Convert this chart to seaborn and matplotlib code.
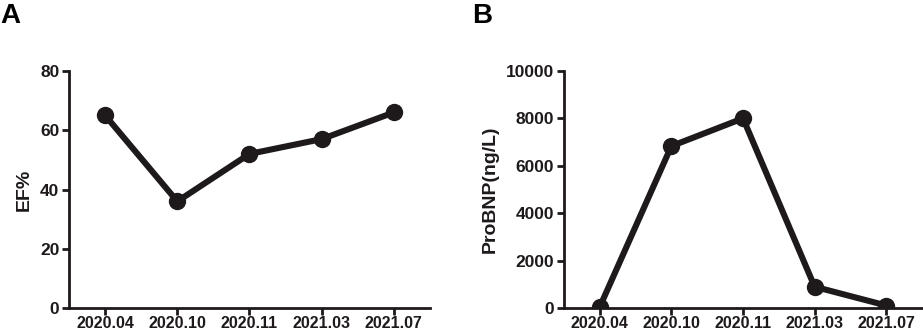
#!/usr/bin/env python3
# -*- coding: utf-8 -*-

import pandas as pd
import matplotlib
matplotlib.use("Agg")
import matplotlib.pyplot as plt
import seaborn as sns

# ================= data =================
dates = ["2020.04", "2020.10", "2020.11", "2021.03", "2021.07"]
ef_pct = [65, 36, 52, 57, 66]
probnp = [50, 6830, 8000, 900, 110]

INK = "#1e1a1b"

sns.set_style("ticks")
plt.rcParams['font.family'] = ['Liberation Sans', 'DejaVu Sans']
plt.rcParams['font.weight'] = 'bold'

fig = plt.figure(figsize=(9.23, 3.36), dpi=100)
# 底部留一点空间，让日期标签完整显示
ax_a = fig.add_axes([0.0748, 0.083, 0.391, 0.706])
ax_b = fig.add_axes([0.611, 0.083, 0.388, 0.706])

df = pd.DataFrame({"date": dates, "ef": ef_pct, "bnp": probnp})


def draw(ax, col, ylab, ymax, step):
    sns.lineplot(data=df, x="date", y=col, ax=ax, color=INK, linewidth=4.4,
                 marker="o", markersize=12.5, markeredgewidth=0, sort=False)
    ax.set_xlim(-0.5, 4.5)
    ax.set_ylim(0, ymax)
    ax.set_yticks(range(0, ymax + 1, step))
    ax.set_xlabel("")
    ax.set_ylabel(ylab, fontsize=14, fontweight="bold", color=INK, labelpad=5)
    for s in ["top", "right"]:
        ax.spines[s].set_visible(False)
    for s in ["left", "bottom"]:
        ax.spines[s].set_linewidth(2)
        ax.spines[s].set_color(INK)
        ax.spines[s].set_zorder(1)
    ax.tick_params(axis="both", length=5, width=2, color=INK, labelcolor=INK, pad=2)
    ax.tick_params(axis="y", labelsize=12.5)
    ax.tick_params(axis="x", labelsize=11.5, pad=1)
    for lab in ax.get_xticklabels() + ax.get_yticklabels():
        lab.set_fontweight("bold")


draw(ax_a, "ef", "EF%", 80, 20)
draw(ax_b, "bnp", "ProBNP(ng/L)", 10000, 2000)

fig.text(0.0, 0.99, "A", fontsize=20, fontweight="bold", color="black", va="top")
fig.text(0.511, 0.99, "B", fontsize=20, fontweight="bold", color="black", va="top")

plt.savefig("out.png", dpi=100)
plt.close()
